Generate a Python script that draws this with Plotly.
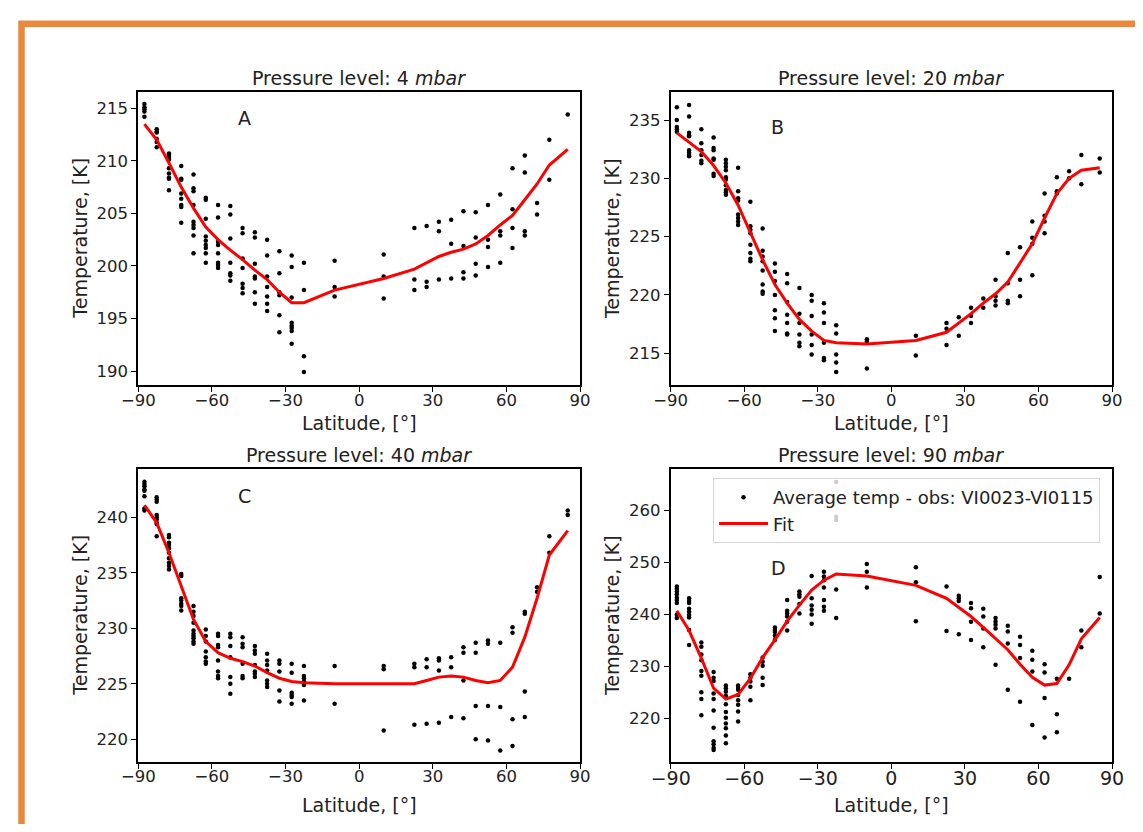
import plotly.graph_objects as go

# ---------------- data ----------------
LAT = [-87.5, -82.5, -77.5, -72.5, -67.5, -62.5, -57.5, -52.5, -47.5, -42.5,
       -37.5, -32.5, -27.5, -22.5, -10, 10, 22.5, 27.5, 32.5, 37.5, 42.5,
       47.5, 52.5, 57.5, 62.5, 67.5, 72.5, 77.5, 85]

A_OBS = [
    [215.4, 215.1, 214.9, 214.7, 214.2],
    [213.0, 212.8, 212.7, 212.1, 211.8, 211.3],
    [210.7, 210.6, 210.4, 210.2, 210.1, 209.3, 208.8, 208.4, 208.3, 207.2],
    [209.5, 208.3, 208.2, 206.9, 206.4, 205.8, 205.6, 204.1],
    [208.7, 207.4, 207.1, 205.8, 204.2, 203.9, 203.6, 202.9, 201.2],
    [206.5, 206.3, 204.5, 202.8, 202.4, 202.0, 201.7, 201.2, 200.3],
    [205.8, 204.6, 202.3, 202.0, 201.2, 200.3, 200.1, 199.8],
    [205.7, 204.9, 202.6, 200.3, 199.3, 199.1, 198.6],
    [203.6, 203.1, 200.7, 199.8, 198.3, 197.9, 197.4],
    [203.2, 202.7, 200.2, 199.0, 198.8, 197.5, 196.4],
    [202.5, 201.0, 199.0, 198.0, 197.1, 196.4, 195.7],
    [201.4, 199.3, 197.5, 197.2, 195.3, 193.7],
    [201.0, 199.9, 197.0, 194.6, 194.3, 194.1, 193.8, 192.6],
    [200.3, 197.7, 191.4, 189.9],
    [200.5, 198.0, 197.1],
    [201.1, 199.0, 196.9],
    [203.6, 198.7, 197.7],
    [203.8, 198.5, 198.0],
    [204.2, 203.3, 198.7],
    [204.4, 202.1, 198.8],
    [205.2, 201.9, 199.4, 198.8],
    [205.1, 202.7, 200.2, 199.1],
    [205.8, 202.5, 201.8, 199.9],
    [206.8, 203.3, 202.9, 200.3],
    [209.3, 205.4, 203.6, 201.7],
    [210.5, 208.9, 203.3, 202.9],
    [206.0, 204.9],
    [212.0, 208.2],
    [214.4],
]
A_FIT = [213.5, 212.0, 209.8, 207.5, 205.5, 203.7, 202.5, 201.5, 200.6, 199.6,
         198.7, 197.5, 196.5, 196.5, 197.7, 198.8, 199.7, 200.3, 200.9, 201.3,
         201.6, 202.1, 202.9, 203.9, 204.8, 206.3, 207.8, 209.6, 211.1]

B_OBS = [
    [236.1, 235.0, 234.4, 234.2, 234.0],
    [236.3, 235.3, 233.9, 233.7, 233.6, 232.4, 232.2, 232.0, 231.9],
    [234.2, 233.0, 232.4, 232.0, 231.5, 231.3],
    [233.5, 232.6, 232.4, 231.7, 231.6, 230.4, 230.2],
    [231.6, 231.3, 231.0, 230.7, 230.1, 229.9, 229.4, 229.0, 228.8, 228.6],
    [230.9, 228.9, 228.3, 228.1, 226.9, 226.6, 226.3, 226.0],
    [228.0, 225.9, 225.6, 225.3, 224.3, 223.6, 223.1, 222.9],
    [225.7, 223.8, 223.3, 222.9, 222.1, 220.9, 220.3, 220.1],
    [222.7, 222.0, 221.2, 220.0, 218.7, 218.0, 216.9],
    [221.8, 221.0, 219.4, 218.3, 217.6, 216.7, 216.6],
    [220.6, 218.4, 217.6, 216.6, 215.9, 215.6],
    [220.0, 219.5, 218.2, 216.6, 215.7, 214.9],
    [219.3, 218.5, 217.6, 215.9, 214.6, 214.4],
    [217.4, 216.7, 214.9, 214.2, 213.4],
    [216.2, 216.0, 213.7],
    [216.5, 214.8],
    [217.6, 217.1, 215.7],
    [218.1, 216.5],
    [218.9, 218.2, 217.6],
    [219.7, 218.9],
    [221.3, 219.9, 219.5, 219.1],
    [223.6, 221.0, 219.5, 219.3],
    [224.1, 221.3, 219.9],
    [226.3, 224.9, 224.4, 221.7],
    [228.7, 226.8, 226.3, 225.3],
    [230.1, 228.9, 228.7],
    [230.6, 230.0],
    [232.0, 229.5],
    [231.7, 230.5],
]
B_FIT = [233.9, 233.1, 232.3, 231.1, 229.6, 227.7, 225.3, 223.0, 220.9, 219.3,
         217.9, 216.9, 216.1, 215.9, 215.8, 216.1, 216.8, 217.6, 218.4, 219.3,
         220.1, 221.1, 222.7, 224.4, 226.6, 228.7, 230.0, 230.7, 230.9]

C_OBS = [
    [243.2, 243.0, 242.8, 242.5, 242.4, 241.9, 240.8, 240.6],
    [241.8, 241.6, 241.4, 240.2, 240.0, 239.8, 239.5, 239.4, 238.3],
    [238.4, 238.2, 237.7, 237.5, 237.2, 236.8, 236.3, 235.9, 235.6, 235.3],
    [234.9, 234.7, 232.7, 232.5, 232.2, 232.0, 231.6],
    [232.0, 231.5, 231.1, 230.5, 229.8, 229.5, 229.3, 229.1, 228.8, 228.6],
    [229.9, 229.3, 228.8, 227.9, 227.4, 227.0, 226.8],
    [229.5, 229.3, 228.5, 228.3, 227.1, 226.1, 225.7, 225.5],
    [229.5, 229.2, 228.4, 227.4, 225.6, 225.0, 224.1],
    [229.2, 228.6, 228.3, 226.8, 225.7, 225.5],
    [228.4, 228.0, 227.7, 226.7, 226.1, 225.9, 225.6],
    [227.7, 227.1, 226.7, 226.2, 225.3, 225.0, 224.7],
    [227.1, 226.8, 226.1, 224.4, 223.4],
    [226.8, 226.0, 224.2, 224.0, 223.8, 223.2],
    [226.6, 225.7, 225.5, 225.2, 224.9, 223.5],
    [226.6, 223.2],
    [226.6, 226.3, 220.8],
    [226.8, 226.5, 221.3],
    [227.2, 226.5, 221.4],
    [227.3, 227.1, 226.2, 221.5],
    [227.4, 226.5, 222.0],
    [228.3, 227.8, 225.3, 221.9],
    [228.7, 227.8, 223.0, 220.0],
    [228.9, 228.6, 223.0, 219.9],
    [228.7, 222.9, 219.0],
    [230.1, 229.6, 221.8, 219.4],
    [231.5, 231.3, 224.3, 222.0],
    [233.7, 233.3],
    [238.3, 236.8],
    [240.6, 240.2],
]
C_FIT = [241.1, 239.5, 236.8, 233.8, 230.8, 228.8, 227.8, 227.3, 227.0, 226.6,
         226.0, 225.5, 225.2, 225.1, 225.0, 225.0, 225.0, 225.3, 225.6, 225.7,
         225.6, 225.3, 225.1, 225.3, 226.5, 229.2, 232.7, 236.6, 238.8]

D_OBS = [
    [245.4, 244.9, 244.4, 243.9, 243.2, 242.8, 242.2, 240.0, 239.3],
    [243.1, 242.6, 242.2, 241.1, 240.5, 239.9, 239.4, 237.0, 234.1],
    [234.6, 233.8, 232.3, 231.2, 229.1, 228.2, 225.0, 223.7, 220.6],
    [228.9, 227.8, 227.2, 224.8, 223.7, 221.5, 218.2, 215.6, 215.0, 214.3, 213.9],
    [226.3, 225.8, 225.1, 224.3, 222.7, 221.2, 220.1, 219.0, 218.1, 216.7, 215.2],
    [226.3, 225.9, 225.5, 224.5, 223.5, 222.6, 221.3, 219.4],
    [228.5, 227.8, 227.1, 226.1, 223.5],
    [231.7, 230.9, 230.1, 227.8, 226.4],
    [237.5, 237.0, 236.6, 235.9, 235.1],
    [242.8, 240.7, 240.2, 239.6, 238.6, 236.9],
    [244.4, 243.9, 243.4, 242.0, 240.2],
    [247.4, 243.1, 241.7, 240.9, 240.0, 238.2],
    [248.2, 247.3, 246.6, 245.2, 242.8, 241.5, 240.7],
    [265.5, 258.8, 258.2, 244.8, 239.3],
    [249.7, 248.2, 245.2],
    [249.1, 246.2, 238.7],
    [245.4, 236.8],
    [243.6, 243.1, 242.6, 236.2],
    [242.2, 241.2, 238.6, 235.1],
    [241.1, 239.6, 237.3, 233.7],
    [239.3, 238.6, 238.0, 237.3, 230.3],
    [237.8, 236.7, 234.4, 225.5],
    [235.7, 234.1, 231.6, 223.2],
    [233.0, 231.3, 229.0, 218.7],
    [230.4, 228.8, 223.9, 216.3],
    [227.6, 220.8, 217.3],
    [227.6],
    [236.9, 233.7],
    [247.2, 240.2],
]
D_FIT = [240.7, 236.9, 231.6, 225.8, 223.7, 224.6, 227.7, 231.7, 235.1, 238.7,
         241.8, 244.7, 246.6, 247.8, 247.4, 245.6, 243.1, 241.4, 239.6, 237.5,
         235.4, 233.2, 230.4, 227.9, 226.4, 226.7, 230.3, 235.3, 239.4]

PRESSURES = [4, 20, 40, 90]
PANEL_LABELS = ["A", "B", "C", "D"]
X_TICKS = [-90, -60, -30, 0, 30, 60, 90]
A_YTICKS = [190, 195, 200, 205, 210, 215]
B_YTICKS = [215, 220, 225, 230, 235]
C_YTICKS = [220, 225, 230, 235, 240]
D_YTICKS = [220, 230, 240, 250, 260]
OBS_NAME = "Average temp - obs: VI0023-VI0115"
FIT_NAME = "Fit"

# ---------------- layout geometry ----------------
# The page body has an 8px margin, so the figure is sized to fit the
# 1143x832 window exactly and positions below are given in window pixels.
OFF = 8
W, H = 1143 - 2 * OFF, 832 - 2 * OFF
FONT = "DejaVu Sans"
# panel boxes: (left, right, top, bottom) in window px
BOXES = [(138.3, 580.0, 91.7, 385.0),
         (670.7, 1112.0, 91.7, 385.0),
         (138.3, 580.0, 469.0, 761.7),
         (670.7, 1112.0, 469.0, 761.7)]
YRANGES = [(188.67, 216.58), (212.28, 237.43), (217.98, 244.35), (211.65, 268.0)]
YTICKS = [A_YTICKS, B_YTICKS, C_YTICKS, D_YTICKS]
OBS = [A_OBS, B_OBS, C_OBS, D_OBS]
FITS = [A_FIT, B_FIT, C_FIT, D_FIT]
LABEL_Y = [214.1, 234.4, 241.9, 248.96]
TXT = "#222222"


def px(x):
    return (x - OFF) / W


def py(y):
    return 1 - (y - OFF) / H


fig = go.Figure()
annotations = []

for i in range(4):
    sfx = "" if i == 0 else str(i + 1)
    xref, yref = "x" + sfx, "y" + sfx
    xs = [lat for lat, vals in zip(LAT, OBS[i]) for _ in vals]
    ys = [v for vals in OBS[i] for v in vals]
    fig.add_trace(go.Scatter(
        x=xs, y=ys, mode="markers", name=OBS_NAME,
        marker=dict(color="black", size=4.5, line=dict(width=0)),
        xaxis=xref, yaxis=yref, showlegend=(i == 3)))
    fig.add_trace(go.Scatter(
        x=LAT, y=FITS[i], mode="lines", name=FIT_NAME,
        line=dict(color="#ff0000", width=3),
        xaxis=xref, yaxis=yref, showlegend=(i == 3)))

    l, r, t, b = BOXES[i]
    xtick_size = 19 if i == 3 else 16.5
    fig.update_layout(**{
        "xaxis" + sfx: dict(
            domain=[px(l), px(r)], range=[-90, 90], anchor=yref,
            tickmode="array", tickvals=X_TICKS, automargin=False,
            ticks="outside", ticklen=5, tickwidth=1.2, tickcolor="black",
            ticklabelstandoff=-6,
            showline=True, linecolor="black", linewidth=1.8, mirror=True,
            showgrid=False, zeroline=False,
            tickfont=dict(family=FONT, size=xtick_size, color=TXT)),
        "yaxis" + sfx: dict(
            domain=[py(b), py(t)], range=list(YRANGES[i]), anchor=xref,
            tickmode="array", tickvals=YTICKS[i], automargin=False,
            ticks="outside", ticklen=5, tickwidth=1.2, tickcolor="black",
            showline=True, linecolor="black", linewidth=1.8, mirror=True,
            showgrid=False, zeroline=False,
            tickfont=dict(family=FONT, size=16.5, color=TXT)),
    })

    cx = (l + r) / 2
    cy = (t + b) / 2
    # title
    annotations.append(dict(
        text=f"Pressure level: {PRESSURES[i]} <i>mbar</i>",
        x=px(cx), y=py(t - 14), xref="paper", yref="paper",
        xanchor="center", yanchor="middle", showarrow=False,
        font=dict(family=FONT, size=19, color=TXT)))
    # x axis title
    annotations.append(dict(
        text="Latitude, [°]",
        x=px(cx), y=py(b + 38 if i < 2 else b + 43), xref="paper", yref="paper",
        xanchor="center", yanchor="middle", showarrow=False,
        font=dict(family=FONT, size=19, color=TXT)))
    # y axis title
    annotations.append(dict(
        text="Temperature, [K]", textangle=-90,
        x=px(l - 58), y=py(cy), xref="paper", yref="paper",
        xanchor="center", yanchor="middle", showarrow=False,
        font=dict(family=FONT, size=19, color=TXT)))
    # panel letter
    annotations.append(dict(
        text=PANEL_LABELS[i], x=-50, y=LABEL_Y[i], xref=xref, yref=yref,
        xanchor="left", yanchor="middle", showarrow=False,
        font=dict(family=FONT, size=19, color=TXT)))

fig.update_layout(
    template="none",
    width=W, height=H,
    margin=dict(l=0, r=0, t=0, b=0, autoexpand=False),
    paper_bgcolor="white", plot_bgcolor="white",
    font=dict(family=FONT, color=TXT),
    annotations=annotations,
    showlegend=True,
    legend=dict(
        x=px(713), y=py(478), xanchor="left", yanchor="top",
        bgcolor="rgba(255,255,255,0.8)", bordercolor="#d6d6d6", borderwidth=1,
        font=dict(family=FONT, size=18, color=TXT),
        itemwidth=49, tracegroupgap=0),
    shapes=[dict(type="rect", xref="paper", yref="paper",
                 x0=px(21.5), x1=1.05, y0=-0.05, y1=py(23.7),
                 line=dict(color="#E8893F", width=6.5), layer="below")],
)

fig.write_html("out.html")
